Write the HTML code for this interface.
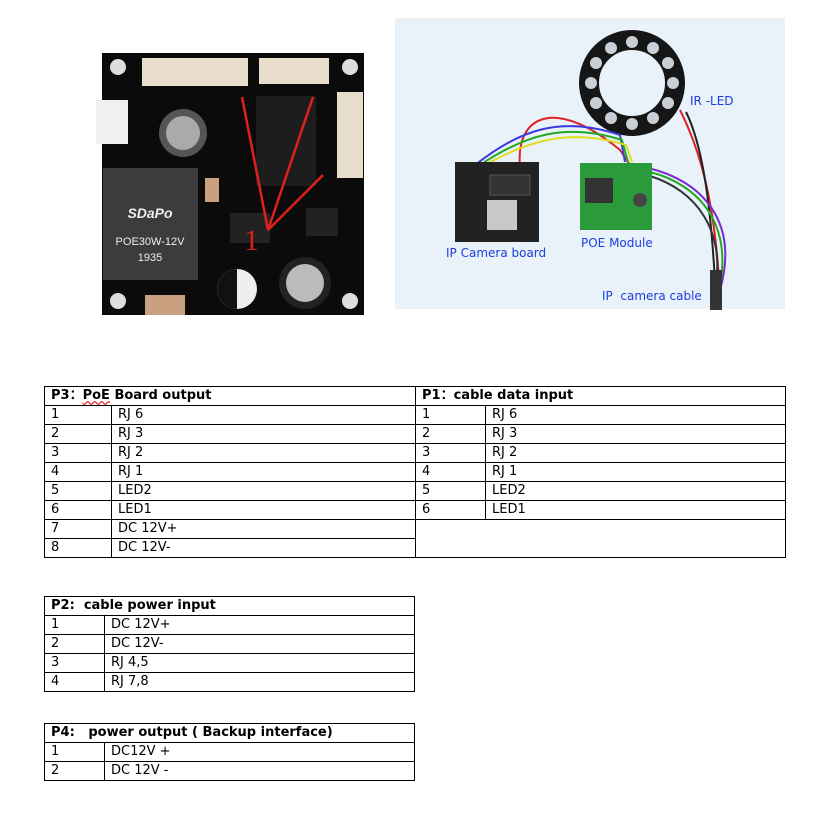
<!DOCTYPE html>
<html><head><meta charset="utf-8"><style>
body{margin:0;width:832px;height:823px;background:#fff;position:relative;overflow:hidden;font-family:"DejaVu Sans",Verdana,sans-serif;}
table{position:absolute;border-collapse:collapse;font-size:13px;color:#000;table-layout:fixed;}
td{border:1px solid #000;padding:0 6px;height:18px;line-height:18px;white-space:nowrap;overflow:hidden;}
.h{font-weight:bold;}
</style></head><body>
<svg width="832" height="330" style="position:absolute;left:0;top:0">
<rect x="102" y="53" width="262" height="262" fill="#0b0b0b"/>
<circle cx="118" cy="67" r="8" fill="#ddd"/><circle cx="350" cy="67" r="8" fill="#ddd"/>
<circle cx="118" cy="301" r="8" fill="#ddd"/><circle cx="350" cy="301" r="8" fill="#ddd"/>
<rect x="142" y="58" width="106" height="28" fill="#e8dccb"/>
<rect x="259" y="58" width="70" height="26" fill="#e8dccb"/>
<rect x="337" y="92" width="26" height="86" fill="#e8dccb"/>
<rect x="96" y="100" width="32" height="44" fill="#f0f0f0"/>
<circle cx="183" cy="133" r="24" fill="#555"/><circle cx="183" cy="133" r="17" fill="#aaa"/>
<rect x="103" y="168" width="95" height="112" fill="#3c3c3c"/>
<text x="150" y="218" fill="#eee" font-family="Liberation Sans" font-size="14" font-weight="bold" font-style="italic" text-anchor="middle">SDaPo</text>
<text x="150" y="245" fill="#eee" font-family="Liberation Sans" font-size="11" text-anchor="middle">POE30W-12V</text>
<text x="150" y="261" fill="#eee" font-family="Liberation Sans" font-size="11" text-anchor="middle">1935</text>
<rect x="256" y="96" width="60" height="90" fill="#1d1d1d"/>
<rect x="205" y="178" width="14" height="24" fill="#c9a080"/>
<rect x="145" y="295" width="40" height="20" fill="#c9a080"/>
<rect x="230" y="213" width="40" height="30" fill="#222"/>
<rect x="306" y="208" width="32" height="28" fill="#222"/>
<circle cx="237" cy="289" r="20" fill="#eee"/><path d="M237 269 A20 20 0 0 0 237 309Z" fill="#111"/>
<circle cx="305" cy="283" r="26" fill="#222"/><circle cx="305" cy="283" r="19" fill="#bbb"/>
<g stroke="#e0201a" stroke-width="2.5"><line x1="268" y1="230" x2="242" y2="97"/><line x1="268" y1="230" x2="313" y2="97"/><line x1="268" y1="230" x2="323" y2="175"/></g>
<text x="244" y="250" fill="#e0201a" font-family="Liberation Serif" font-size="30">1</text>
<rect x="395" y="18" width="390" height="291" fill="#e9f1f9"/>
<circle cx="632" cy="83" r="43" fill="none" stroke="#161616" stroke-width="20"/>
<g fill="#c8cfd6">
<circle cx="632" cy="42" r="6"/><circle cx="653" cy="48" r="6"/><circle cx="668" cy="63" r="6"/><circle cx="673" cy="83" r="6"/><circle cx="668" cy="103" r="6"/><circle cx="653" cy="118" r="6"/><circle cx="632" cy="124" r="6"/><circle cx="611" cy="118" r="6"/><circle cx="596" cy="103" r="6"/><circle cx="591" cy="83" r="6"/><circle cx="596" cy="63" r="6"/><circle cx="611" cy="48" r="6"/></g>
<g fill="none" stroke-width="2">
<path d="M520 168 C515 110 560 100 620 150 L630 165" stroke="#d22"/>
<path d="M475 165 C520 130 560 115 620 135 L625 162" stroke="#3a3ae0"/>
<path d="M480 165 C525 135 565 122 622 140 L628 162" stroke="#2a2"/>
<path d="M485 165 C530 140 570 128 626 145 L632 162" stroke="#dd2"/>
<path d="M680 110 C700 150 715 200 720 295" stroke="#d22"/>
<path d="M686 112 C705 150 712 220 716 300" stroke="#222"/>
<path d="M648 168 C700 180 740 220 720 290" stroke="#7a2ad0"/>
<path d="M650 172 C700 185 735 225 718 295" stroke="#2a2"/>
<path d="M650 176 C695 190 728 230 714 295" stroke="#333"/>
</g>
<rect x="710" y="270" width="12" height="40" fill="#333"/>
<rect x="455" y="162" width="84" height="80" fill="#222"/>
<rect x="487" y="200" width="30" height="30" fill="#c8c8c8"/>
<rect x="490" y="175" width="40" height="20" fill="#333" stroke="#555"/>
<rect x="580" y="163" width="72" height="67" fill="#2a9a3a"/>
<rect x="585" y="178" width="28" height="25" fill="#333"/>
<circle cx="640" cy="200" r="7" fill="#444"/>
<g font-family="DejaVu Sans" font-size="12" fill="#1c3ee0">
<text x="690" y="105">IR -LED</text>
<text x="446" y="257">IP Camera board</text>
<text x="581" y="247">POE Module</text>
<text x="602" y="300">IP&#160; camera cable</text>
</g>
</svg>

<table style="left:44px;top:386px;width:742px">
<colgroup><col style="width:67px"><col style="width:304px"><col style="width:70px"><col></colgroup>
<tr><td colspan="2" class="h">P3：<span style="text-decoration:underline wavy #d33">PoE</span> Board output</td><td colspan="2" class="h">P1：cable data input</td></tr>
<tr><td>1</td><td>RJ 6</td><td>1</td><td>RJ 6</td></tr>
<tr><td>2</td><td>RJ 3</td><td>2</td><td>RJ 3</td></tr>
<tr><td>3</td><td>RJ 2</td><td>3</td><td>RJ 2</td></tr>
<tr><td>4</td><td>RJ 1</td><td>4</td><td>RJ 1</td></tr>
<tr><td>5</td><td>LED2</td><td>5</td><td>LED2</td></tr>
<tr><td>6</td><td>LED1</td><td>6</td><td>LED1</td></tr>
<tr><td>7</td><td>DC 12V+</td><td colspan="2" rowspan="2"></td></tr>
<tr><td>8</td><td>DC 12V-</td></tr>
</table>

<table style="left:44px;top:596px;width:371px">
<colgroup><col style="width:60px"><col></colgroup>
<tr><td colspan="2" class="h">P2:&#160; cable power input</td></tr>
<tr><td>1</td><td>DC 12V+</td></tr>
<tr><td>2</td><td>DC 12V-</td></tr>
<tr><td>3</td><td>RJ 4,5</td></tr>
<tr><td>4</td><td>RJ 7,8</td></tr>
</table>

<table style="left:44px;top:723px;width:371px">
<colgroup><col style="width:60px"><col></colgroup>
<tr><td colspan="2" class="h">P4:&#160;&#160; power output ( Backup interface)</td></tr>
<tr><td>1</td><td>DC12V +</td></tr>
<tr><td>2</td><td>DC 12V -</td></tr>
</table>
</body></html>
